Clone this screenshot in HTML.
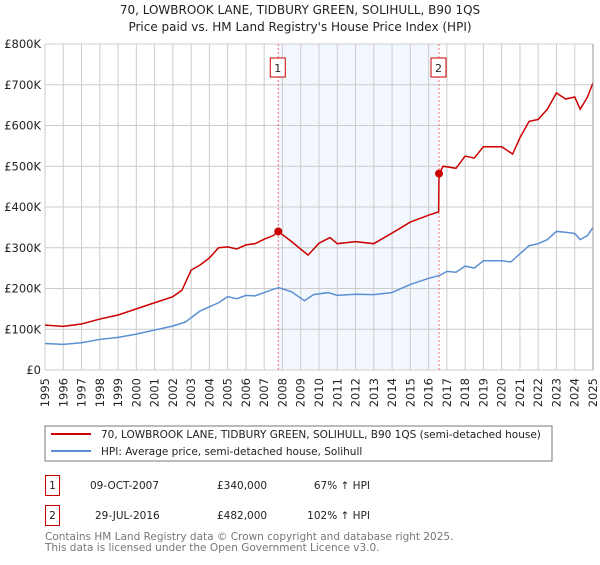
<!DOCTYPE html>
<html><head><meta charset="utf-8"><style>
body{margin:0;background:#fff;font-family:"Liberation Sans","DejaVu Sans",sans-serif;}
svg text{font-family:"DejaVu Sans","Liberation Sans",sans-serif;}
</style></head><body>
<svg id="c" width="600" height="560" viewBox="0 0 600 560" xmlns="http://www.w3.org/2000/svg">
<text x="300" y="14" text-anchor="middle" font-size="12" fill="#222">70, LOWBROOK LANE, TIDBURY GREEN, SOLIHULL, B90 1QS</text>
<text x="300" y="31" text-anchor="middle" font-size="12" fill="#222">Price paid vs. HM Land Registry's House Price Index (HPI)</text>
<g id="plot"></g>
<rect x="45" y="426" width="507" height="35" fill="#fff" stroke="#777"/>
<line x1="51" y1="434" x2="91" y2="434" stroke="#cc0000" stroke-width="2"/>
<text x="101" y="438" font-size="10.5" fill="#222">70, LOWBROOK LANE, TIDBURY GREEN, SOLIHULL, B90 1QS (semi-detached house)</text>
<line x1="51" y1="451" x2="91" y2="451" stroke="#5b8fd4" stroke-width="2"/>
<text x="101" y="455" font-size="10.5" fill="#222">HPI: Average price, semi-detached house, Solihull</text>
<g>
<rect x="45.5" y="475.5" width="14" height="20" fill="#fff" stroke="#cc0000"/>
<text x="52.5" y="489" text-anchor="middle" font-size="10.5" fill="#222">1</text>
<text x="90" y="489" font-size="10.5" fill="#222">09-OCT-2007</text>
<text x="217" y="489" font-size="10.5" fill="#222">£340,000</text>
<text x="370" y="489" text-anchor="end" font-size="10.5" fill="#222">67% ↑ HPI</text>
</g>
<g>
<rect x="45.5" y="505.5" width="14" height="20" fill="#fff" stroke="#cc0000"/>
<text x="52.5" y="519" text-anchor="middle" font-size="10.5" fill="#222">2</text>
<text x="95" y="519" font-size="10.5" fill="#222">29-JUL-2016</text>
<text x="217" y="519" font-size="10.5" fill="#222">£482,000</text>
<text x="370" y="519" text-anchor="end" font-size="10.5" fill="#222">102% ↑ HPI</text>
</g>
<text x="45" y="540" font-size="10.5" fill="#777">Contains HM Land Registry data © Crown copyright and database right 2025.</text>
<text x="45" y="551" font-size="10.5" fill="#777">This data is licensed under the Open Government Licence v3.0.</text>
</svg>
<script>
const hpiYears=[1995,1996,1997,1998,1999,2000,2001,2002,2002.7,2003.2,2003.5,2004,2004.5,2005,2005.5,2006,2006.5,2007,2007.5,2007.8,2008.5,2009.2,2009.7,2010.5,2011,2012,2013,2014,2015,2016,2016.6,2017,2017.5,2018,2018.5,2019,2020,2020.5,2021,2021.5,2022,2022.5,2023,2023.5,2024,2024.3,2024.7,2025];
const hpiValues=[65,63,67,75,80,88,98,108,118,135,145,155,165,180,175,183,182,190,198,202,192,170,185,190,183,186,185,190,210,225,232,242,240,255,250,268,268,265,285,305,310,320,340,338,335,320,330,350];
const propYears=[1995,1996,1997,1998,1999,2000,2001,2002,2002.5,2003,2003.5,2004,2004.5,2005,2005.5,2006,2006.5,2007,2007.5,2007.77,2008.5,2009.4,2010,2010.6,2011,2012,2013,2014,2015,2016,2016.55,2016.57,2016.8,2017.5,2018,2018.5,2019,2020,2020.6,2021,2021.5,2022,2022.5,2023,2023.5,2024,2024.3,2024.7,2025];
const propValues=[110,107,113,125,135,150,165,180,196,245,258,275,300,302,297,307,310,321,330,340,315,282,311,325,310,315,310,336,363,380,388,482,500,495,525,520,548,548,530,570,610,615,640,680,665,670,640,670,705];
const saleYears=[2007.77,2016.57];
const saleValues=[340,482];
const saleLabels=["1","2"];
const yTicks=[0,100,200,300,400,500,600,700,800];
const yTickLabels=["£0","£100K","£200K","£300K","£400K","£500K","£600K","£700K","£800K"];
const xTicks=[1995,1996,1997,1998,1999,2000,2001,2002,2003,2004,2005,2006,2007,2008,2009,2010,2011,2012,2013,2014,2015,2016,2017,2018,2019,2020,2021,2022,2023,2024,2025];

const X0=45,X1=593,Y0=370,Y1=44;
const xs=y=>X0+(y-1995)/30*(X1-X0);
const ys=v=>Y0-v/800*(Y0-Y1);
const NS="http://www.w3.org/2000/svg";
const g=document.getElementById('plot');
function mk(t,a,p){const e=document.createElementNS(NS,t);for(const k in a)e.setAttribute(k,a[k]);(p||g).appendChild(e);return e;}
const shade=mk('rect',{x:xs(saleYears[0]),y:Y1,width:xs(saleYears[1])-xs(saleYears[0]),height:Y0-Y1,fill:'#eef3fd',opacity:0.7});


xTicks.forEach((t,i)=>{
 const l=mk('line',{x1:xs(t),x2:xs(t),y1:Y1,y2:Y0,stroke:'#ccc','stroke-width':1});
 
 
 const tx=mk('text',{x:0,y:0,'font-size':11.5,fill:'#222','text-anchor':'end',transform:`translate(${xs(t)+4},${Y0+8}) rotate(-90)`});
 tx.textContent=t;
 
 
});
yTicks.forEach((t,i)=>{
 const l=mk('line',{x1:X0,x2:X1,y1:ys(t),y2:ys(t),stroke:'#ccc','stroke-width':1});
 
 
 const tx=mk('text',{x:X0-4,y:ys(t)+4,'font-size':11.5,fill:'#222','text-anchor':'end'});
 tx.textContent=yTickLabels[i];
 
 
});
saleYears.forEach((s,i)=>{
 const l=mk('line',{x1:xs(s),x2:xs(s),y1:Y1,y2:Y0,stroke:'#f07070','stroke-width':1,'stroke-dasharray':'2,2'});
 
 
 const r=mk('rect',{x:xs(s)-8,y:58,width:15,height:19,fill:'#fff',stroke:'#cc0000'});
 
 
 const tx=mk('text',{x:xs(s)-0.5,y:72,'font-size':11,fill:'#222','text-anchor':'middle'});
 tx.textContent=saleLabels[i];
 
 
});
const hp=mk('polyline',{points:hpiYears.map((y,i)=>xs(y)+','+ys(hpiValues[i])).join(' '),fill:'none',stroke:'#5b8fd4','stroke-width':1.5});


const pp=mk('polyline',{points:propYears.map((y,i)=>xs(y)+','+ys(propValues[i])).join(' '),fill:'none',stroke:'#cc0000','stroke-width':1.5});


saleYears.forEach((s,i)=>{
 const c=mk('circle',{cx:xs(s),cy:ys(saleValues[i]),r:4,fill:'#cc0000'});
 
 
});
const ax=mk('line',{x1:X1,x2:X1,y1:Y1,y2:Y0,stroke:'#999','stroke-width':1});


</script>
</body></html>
